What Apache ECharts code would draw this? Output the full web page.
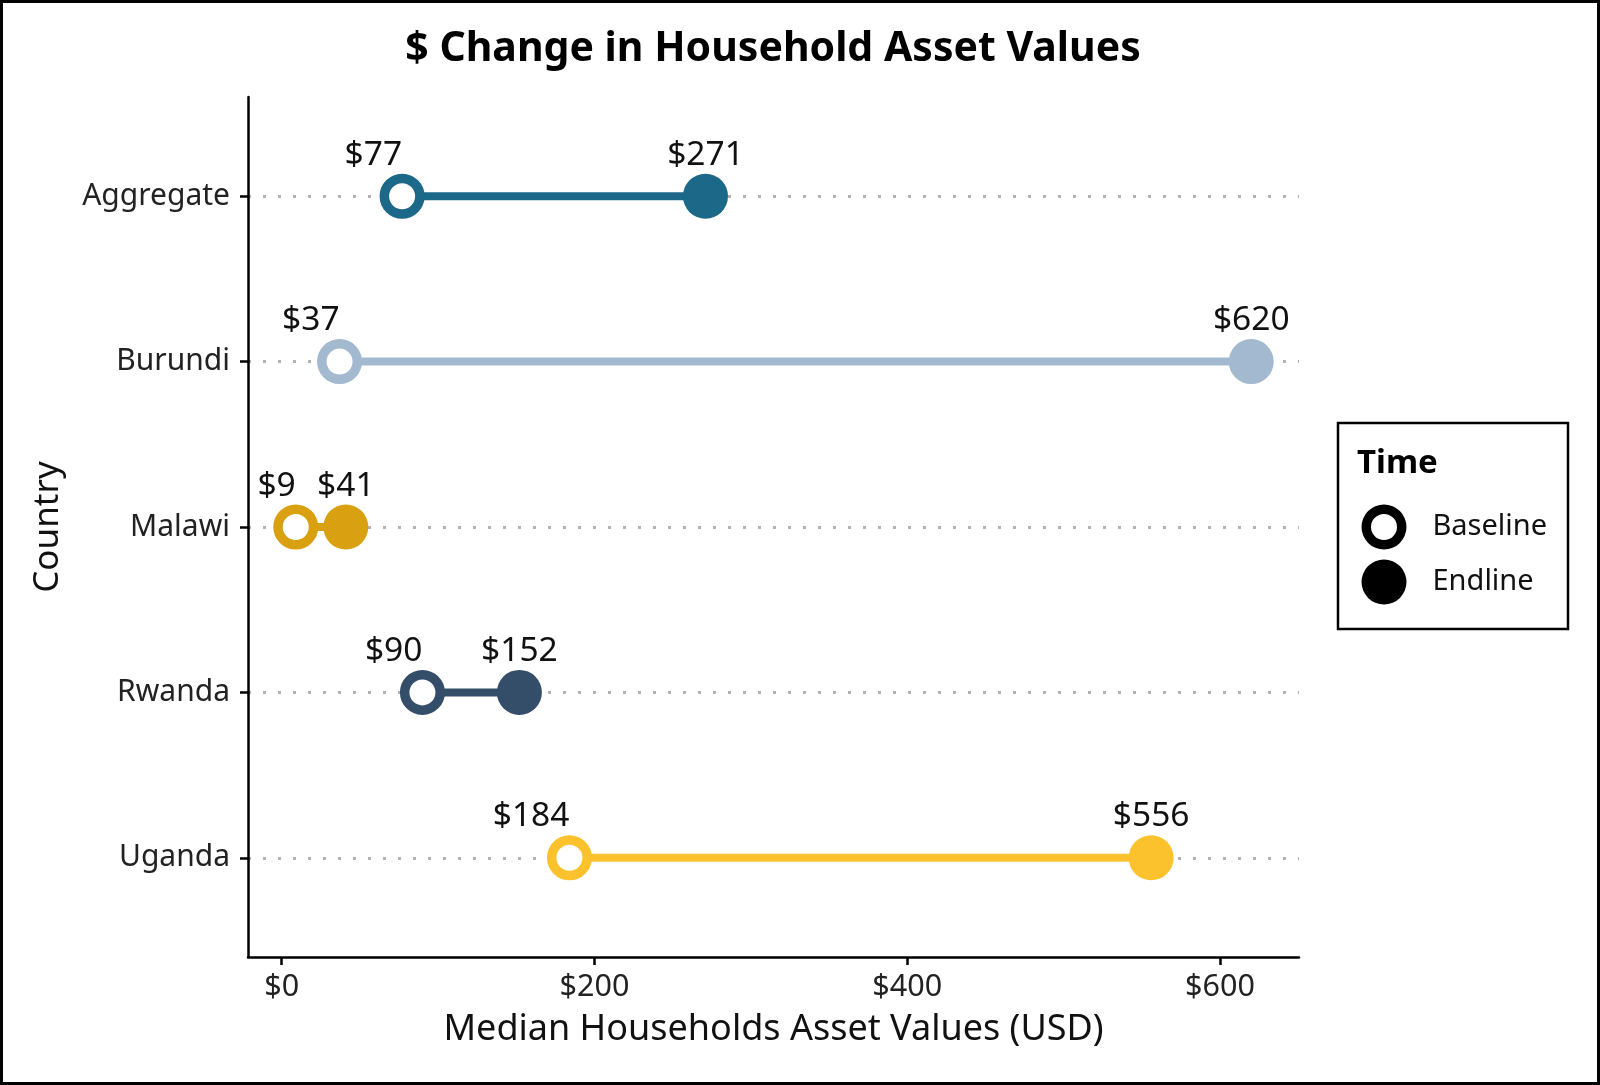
<!DOCTYPE html>
<html><head><meta charset="utf-8">
<script src="https://cdn.jsdelivr.net/npm/echarts@6/dist/echarts.min.js"></script>
<style>html,body{margin:0;padding:0;background:#fff}#c{width:1600px;height:1085px}</style>
</head><body><div id="c"></div>
<script>
const countries = ['Aggregate', 'Burundi', 'Malawi', 'Rwanda', 'Uganda'];
const baseline = [77, 37, 9, 90, 184];
const endline = [271, 620, 41, 152, 556];
const countryColors = ['#1b6888', '#a2b9cf', '#d9a011', '#344d68', '#fcc22e'];
const xTicks = [0, 200, 400, 600];
const yTicks = [0, 1, 2, 3, 4];
const legendNames = ['Baseline', 'Endline'];

const FONT = 'Noto Sans';
const TXT = '#111';
const ringIcon = 'path://M0,-22.5A22.5,22.5,0,1,1,0,22.5A22.5,22.5,0,1,1,0,-22.5ZM0,-13A13,13,0,1,0,0,13A13,13,0,1,0,0,-13Z';

const chart = echarts.init(document.getElementById('c'), null, {renderer: 'canvas'});

const connectorSeries = countries.map((c, i) => ({
  type: 'line', name: c,
  data: [[baseline[i], i], [endline[i], i]],
  symbol: 'none', showSymbol: false, silent: true, z: 1,
  lineStyle: {color: countryColors[i], width: 8, opacity: 1},
  animation: false
}));

const option = {
  animation: false,
  textStyle: {fontFamily: FONT},
  title: [
    {text: '$ Change in Household Asset Values', left: 773, textAlign: 'center', top: 29, padding: 0,
     textStyle: {fontFamily: FONT, fontSize: 41, fontWeight: 'bold', color: '#000'}},
    {text: 'Time', left: 1357, top: 447, padding: 0,
     textStyle: {fontFamily: FONT, fontSize: 33, fontWeight: 'bold', color: '#000'}}
  ],
  grid: {left: 248, right: 301, top: 97, bottom: 128},
  legend: {
    data: [
      {name: legendNames[0], icon: ringIcon, itemStyle: {color: '#000', borderWidth: 0, borderColor: '#000', opacity: 1}},
      {name: legendNames[1], icon: 'circle', itemStyle: {color: '#000', borderWidth: 0, opacity: 1}}
    ],
    orient: 'vertical', left: 1361.5, top: 504.5, padding: 0,
    itemWidth: 45, itemHeight: 45, itemGap: 10, selectedMode: false,
    textStyle: {fontFamily: FONT, fontSize: 29, color: TXT, padding: [3, 0, 0, 21]}
  },
  xAxis: {
    type: 'value', min: -21.55, max: 650.55,
    axisLine: {show: true, onZero: false, lineStyle: {color: '#000', width: 2.5}},
    axisTick: {show: true, length: 8, customValues: xTicks, lineStyle: {color: '#000', width: 2.5}},
    axisLabel: {customValues: xTicks, formatter: v => '$' + v, fontSize: 30.5, color: '#222', margin: 15, fontFamily: FONT},
    splitLine: {show: false},
    name: 'Median Households Asset Values (USD)', nameLocation: 'middle', nameGap: 55,
    nameTextStyle: {fontSize: 36, color: TXT, fontFamily: FONT}
  },
  yAxis: {
    type: 'value', min: -0.6, max: 4.6, inverse: true,
    axisLine: {show: true, onZero: false, lineStyle: {color: '#000', width: 2.5}},
    axisTick: {show: true, length: 8, customValues: yTicks, lineStyle: {color: '#000', width: 2.5}},
    axisLabel: {customValues: yTicks, formatter: v => countries[Math.round(v)], fontSize: 30, color: '#222', margin: 18, fontFamily: FONT},
    splitLine: {show: false},
    name: 'Country', nameLocation: 'middle', nameGap: 182, nameRotate: 90,
    nameTextStyle: {fontSize: 35, color: TXT, fontFamily: FONT}
  },
  graphic: [
    {type: 'rect', shape: {x: 1.5, y: 1.5, width: 1597, height: 1082}, style: {fill: 'none', stroke: '#000', lineWidth: 3}, silent: true},
    {type: 'rect', shape: {x: 1338, y: 423, width: 230, height: 206}, style: {fill: 'none', stroke: '#000', lineWidth: 2.5}, silent: true}
  ],
  series: [
    {
      type: 'scatter', name: 'grid', data: [], silent: true, z: 0,
      markLine: {
        silent: true, symbol: ['none', 'none'], label: {show: false}, z: 0, animation: false,
        lineStyle: {color: '#b3b3b3', width: 3, type: [3, 12], opacity: 1},
        emphasis: {disabled: true},
        data: yTicks.map(i => ({yAxis: i}))
      }
    },
    ...connectorSeries,
    {
      type: 'scatter', name: legendNames[0], z: 3, symbolSize: 35.5,
      itemStyle: {color: '#fff', borderColor: '#000', borderWidth: 9.5, opacity: 1},
      emphasis: {disabled: true},
      data: baseline.map((v, i) => ({value: [v, i], itemStyle: {borderColor: countryColors[i]}})),
      label: {show: true, position: 'inside', offset: [0, -41], align: 'right', verticalAlign: 'middle',
              formatter: p => '$' + p.value[0], fontSize: 33.5, color: TXT, fontFamily: FONT}
    },
    {
      type: 'scatter', name: legendNames[1], z: 3, symbolSize: 45,
      itemStyle: {color: '#000', opacity: 1},
      emphasis: {disabled: true},
      data: endline.map((v, i) => ({value: [v, i], itemStyle: {color: countryColors[i]}})),
      label: {show: true, position: 'inside', offset: [0, -41], align: 'center', verticalAlign: 'middle',
              formatter: p => '$' + p.value[0], fontSize: 33.5, color: TXT, fontFamily: FONT}
    }
  ]
};
chart.setOption(option);
</script>
</body></html>
